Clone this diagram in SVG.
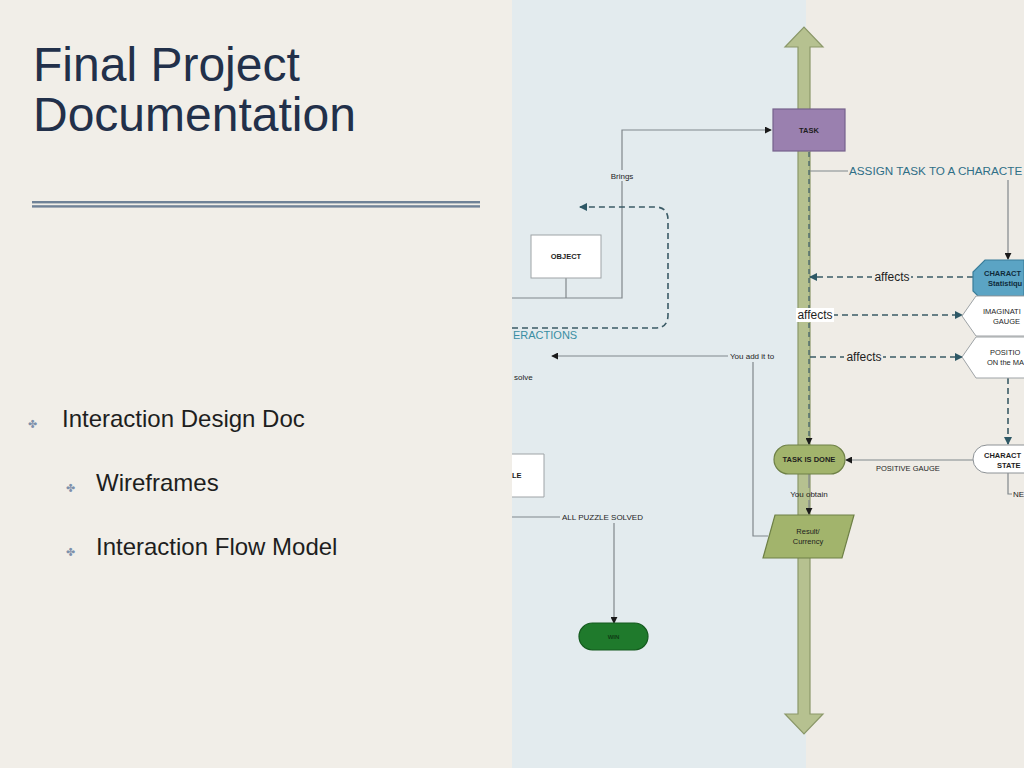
<svg xmlns="http://www.w3.org/2000/svg" width="1024" height="768" viewBox="0 0 1024 768">
<defs>
<marker id="ah" viewBox="0 0 8 8" refX="7" refY="4" markerWidth="7" markerHeight="7" orient="auto" markerUnits="userSpaceOnUse"><path d="M0,0 L8,4 L0,8 Z" fill="#1a1a1a"/></marker>
<marker id="ahd" viewBox="0 0 8 8" refX="7" refY="4" markerWidth="8" markerHeight="8" orient="auto" markerUnits="userSpaceOnUse"><path d="M0,0 L8,4 L0,8 Z" fill="#2e5866"/></marker>
<style>
.t{font-family:"Liberation Sans",Arial,sans-serif;fill:#1e1e1e}
.s{fill:none;stroke:#80878b;stroke-width:1.2}
.d{fill:none;stroke:#3b5b66;stroke-width:1.6;stroke-dasharray:6 4}
.lbl{font-family:"Liberation Sans",Arial,sans-serif;font-size:8px;fill:#1e1e1e}
.nl{font-family:"Liberation Sans",Arial,sans-serif;font-size:7.5px;font-weight:bold;fill:#1e1e1e}
.aff{font-family:"Liberation Sans",Arial,sans-serif;font-size:12px;fill:#1e1e1e}
.side{font-family:"Liberation Sans",Arial,sans-serif;font-size:24px;fill:#1e1e1e}
.bul{font-family:"DejaVu Sans",sans-serif;font-size:11px;fill:#7d90ab}
</style>
</defs>

<!-- backgrounds -->
<rect x="0" y="0" width="1024" height="768" fill="#f1eee8"/>
<rect x="512" y="0" width="294" height="768" fill="#e3ebee"/>
<rect x="806" y="0" width="218" height="768" fill="#efece6"/>

<!-- left slide -->
<g id="title">
<text class="t" x="33" y="81" font-size="48" style="fill:#22304a">Final Project</text>
<text class="t" x="33" y="131" font-size="48" style="fill:#22304a">Documentation</text>
</g>
<g id="rule">
<rect x="32" y="201" width="448" height="2.4" fill="#6f8297"/>
<rect x="32" y="205.2" width="448" height="2.4" fill="#6f8297"/>
</g>
<g id="bullets">
<text class="bul" x="28" y="428">✤</text>
<text class="side" x="62" y="427">Interaction Design Doc</text>
<text class="bul" x="66" y="492">✤</text>
<text class="side" x="96" y="491">Wireframes</text>
<text class="bul" x="66" y="556">✤</text>
<text class="side" x="96" y="555">Interaction Flow Model</text>
</g>

<!-- timeline arrow -->
<g id="timeline">
<path d="M798,47 L785,47 L804,27 L823,47 L810,47 L810,714 L823,714 L804,734 L785,714 L798,714 Z" fill="#b6c190" stroke="#8b9869" stroke-width="1.2"/>
</g>

<!-- connectors -->
<g id="connectors">
<path class="s" d="M512,298 L622,298 L622,130 L771,130" marker-end="url(#ah)"/>
<path class="s" d="M566,278 L566,298"/>
<path class="d" d="M512,328 L655,328 Q668,328 668,315 L668,220 Q668,207 655,207 L580,207" marker-end="url(#ahd)"/>
<path class="s" d="M728,356 L552,356" marker-end="url(#ah)"/>
<path class="s" d="M753,362 L753,536 L768,536"/>
<path class="s" d="M512,517 L560,517"/>
<path class="s" d="M614,523 L614,623" marker-end="url(#ah)"/>
<path class="d" d="M809,152 L809,444" style="stroke-width:1.2;stroke-dasharray:5 4" marker-end="url(#ah)"/>
<path class="s" d="M809,474 L809,488 M809,500 L809,514" marker-end="url(#ah)"/>
<path class="s" d="M810,171 L848,171"/>
<path class="s" d="M1008,180 L1008,259" marker-end="url(#ah)"/>
<path class="d" d="M973,277 L810,277" marker-end="url(#ahd)"/>
<path class="d" d="M832,315 L962,315" marker-end="url(#ahd)"/>
<path class="d" d="M810,357 L962,357" marker-end="url(#ahd)"/>
<path class="d" d="M1008,378 L1008,444" marker-end="url(#ahd)"/>
<path class="s" d="M973,460 L846,460" marker-end="url(#ah)"/>
<path class="s" d="M1008,473 L1008,494 L1012,494"/>
<rect x="608" y="170" width="28" height="11" fill="#e3ebee"/>
<text class="lbl" x="622" y="179" text-anchor="middle">Brings</text>
<text class="lbl" x="730" y="359">You add it to</text>
<text class="lbl" x="514" y="380">solve</text>
<text class="lbl" x="562" y="520">ALL PUZZLE SOLVED</text>
<text class="lbl" x="809" y="497" text-anchor="middle">You obtain</text>
<text class="t" x="513" y="339" font-size="11" style="fill:#3a8ea3">ERACTIONS</text>
<text class="t" x="849" y="175" font-size="11.7" style="fill:#2f6f86">ASSIGN TASK TO A CHARACTE</text>
<rect x="872" y="270" width="39" height="14" fill="#efece6"/>
<text class="aff" x="892" y="281" text-anchor="middle">affects</text>
<rect x="796" y="308" width="38" height="14" fill="#ffffff"/>
<text class="aff" x="815" y="319" text-anchor="middle">affects</text>
<rect x="844" y="350" width="39" height="14" fill="#efece6"/>
<text class="aff" x="864" y="361" text-anchor="middle">affects</text>
<text class="lbl" x="876" y="471" style="font-size:7.5px">POSITIVE GAUGE</text>
<text class="lbl" x="1013" y="497">NE</text>
</g>

<!-- nodes -->
<g id="task">
<rect x="773" y="109" width="72" height="42" fill="#9a80af" stroke="#76628c" stroke-width="1.2"/>
<text class="nl" x="809" y="133" text-anchor="middle">TASK</text>
</g>
<g id="object">
<rect x="531" y="235" width="70" height="43" fill="#ffffff" stroke="#9ea3a6" stroke-width="1"/>
<text class="nl" x="566" y="259" text-anchor="middle">OBJECT</text>
</g>
<g id="puzzle">
<rect x="512" y="454" width="32" height="43" fill="#ffffff"/>
<path d="M512,454 L544,454 L544,497 L512,497" fill="none" stroke="#9ea3a6" stroke-width="1"/>
<text class="nl" x="512" y="478">LE</text>
</g>
<g id="win">
<rect x="579" y="623" width="69" height="27" rx="13.5" fill="#1f7a2c" stroke="#145a1e" stroke-width="1.2"/>
<text class="nl" x="613.5" y="639" text-anchor="middle" style="font-size:6px;fill:#0f3d15">WIN</text>
</g>
<g id="task-done">
<rect x="774" y="445" width="71" height="29" rx="14.5" fill="#a2b46c" stroke="#6e8046" stroke-width="1.2"/>
<text class="nl" x="809" y="462" text-anchor="middle">TASK IS DONE</text>
</g>
<g id="result">
<path d="M775,515 L854,515 L842,558 L763,558 Z" fill="#a2b46c" stroke="#6e8046" stroke-width="1.2"/>
<text class="nl" x="808" y="534" text-anchor="middle" style="font-weight:normal">Result/</text>
<text class="nl" x="808" y="544" text-anchor="middle" style="font-weight:normal">Currency</text>
</g>
<g id="char-stat">
<path d="M985,260 L1024,260 L1024,296 L978,296 L973,291 L973,272 Z" fill="#5ba4c4" stroke="#3a7d99" stroke-width="1.2"/>
<text class="nl" x="984" y="276" style="fill:#0f2a3a">CHARACT</text>
<text class="nl" x="988" y="286" style="fill:#0f2a3a">Statistiqu</text>
</g>
<g id="imagination">
<path d="M976,296 L1025,296 L1025,336 L976,336 L962,316 Z" fill="#ffffff" stroke="#9ea3a6" stroke-width="1"/>
<text class="nl" x="983" y="314" style="font-weight:normal">IMAGINATI</text>
<text class="nl" x="993" y="324" style="font-weight:normal">GAUGE</text>
</g>
<g id="position">
<path d="M976,337 L1025,337 L1025,378 L976,378 L962,357 Z" fill="#ffffff" stroke="#9ea3a6" stroke-width="1"/>
<text class="nl" x="990" y="355" style="font-weight:normal">POSITIO</text>
<text class="nl" x="987" y="365" style="font-weight:normal">ON the MA</text>
</g>
<g id="char-state">
<rect x="973" y="445" width="80" height="28" rx="14" fill="#ffffff" stroke="#8d9296" stroke-width="1"/>
<text class="nl" x="984" y="458">CHARACT</text>
<text class="nl" x="997" y="468">STATE</text>
</g>
</svg>
